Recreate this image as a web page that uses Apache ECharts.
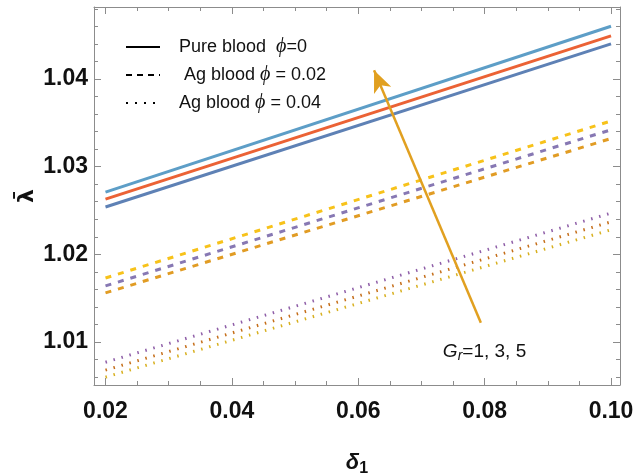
<!DOCTYPE html>
<html>
<head>
<meta charset="utf-8">
<script src="https://cdn.jsdelivr.net/npm/echarts@6/dist/echarts.min.js"></script>
<style>
  html, body { margin: 0; padding: 0; background: #fff; }
  #chart { width: 633px; height: 474px; }
</style>
</head>
<body>
<div id="chart"></div>
<script>
// values
var delta1 = [0.02, 0.10];
var pureGr1 = [1.0254, 1.0440];
var pureGr3 = [1.0263, 1.0449];
var pureGr5 = [1.0271, 1.0460];
var ag02Gr1 = [1.0156, 1.0332];
var ag02Gr3 = [1.0164, 1.0342];
var ag02Gr5 = [1.0173, 1.0352];
var ag04Gr1 = [1.0060, 1.0228];
var ag04Gr3 = [1.0068, 1.0237];
var ag04Gr5 = [1.0077, 1.0247];

var xTicks = [0.02, 0.04, 0.06, 0.08, 0.10];
var yTicks = [1.01, 1.02, 1.03, 1.04];
var xMinor = [0.025, 0.03, 0.035, 0.045, 0.05, 0.055, 0.065, 0.07, 0.075, 0.085, 0.09, 0.095];
var yMinor = [1.006, 1.008, 1.012, 1.014, 1.016, 1.018, 1.022, 1.024, 1.026, 1.028,
              1.032, 1.034, 1.036, 1.038, 1.042, 1.044, 1.046, 1.048];

var legendNames = ['Pure blood  \u03d5=0', ' Ag blood \u03d5 = 0.02', 'Ag blood \u03d5 = 0.04'];
var arrowTail = [0.0794, 1.0122];
var arrowHead = [0.0625, 1.0410];

var xMin = 0.01818, xMax = 0.10142, yMin = 1.0051, yMax = 1.0482;
var font = 'Liberation Sans Narrow, Liberation Sans, Arial, sans-serif';
var frame = '#8c8c8c';

function pairs(ys) {
  return delta1.map(function (x, i) { return [x, ys[i]]; });
}

function makeX(pos, vals, len, showLabel, showLine) {
  return {
    type: 'value', position: pos, min: xMin, max: xMax,
    axisLine: { show: showLine, onZero: false, lineStyle: { color: frame, width: 1 } },
    axisTick: { show: true, inside: true, length: len, customValues: vals, lineStyle: { color: frame } },
    axisLabel: showLabel ? {
      show: true, customValues: vals, margin: 15,
      fontFamily: font, fontSize: 23, fontWeight: 'bold', color: '#111',
      formatter: function (v) { return v.toFixed(2); }
    } : { show: false },
    splitLine: { show: false }
  };
}
function makeY(pos, vals, len, showLabel, showLine) {
  return {
    type: 'value', position: pos, min: yMin, max: yMax,
    axisLine: { show: showLine, onZero: false, lineStyle: { color: frame, width: 1 } },
    axisTick: { show: true, inside: true, length: len, customValues: vals, lineStyle: { color: frame } },
    axisLabel: showLabel ? {
      show: true, customValues: vals, margin: 6,
      fontFamily: font, fontSize: 23, fontWeight: 'bold', color: '#111',
      formatter: function (v) { return v.toFixed(2); }
    } : { show: false },
    splitLine: { show: false }
  };
}

var xMain = makeX('bottom', xTicks, 7, true, true);
xMain.name = '{d|\u03b4}{s|1}';
xMain.nameLocation = 'middle';
xMain.nameGap = 64;
xMain.nameTextStyle = {
  rich: {
    d: { fontFamily: font, fontSize: 22, fontStyle: 'italic', fontWeight: 'bold', color: '#111' },
    s: { fontFamily: font, fontSize: 16, fontWeight: 'bold', color: '#111', verticalAlign: 'bottom', padding: [12, 0, 0, 0] }
  }
};
var yMain = makeY('left', yTicks, 7, true, true);

function line(name, ys, color, type, width) {
  return {
    name: name, type: 'line', data: pairs(ys), symbol: 'none', showSymbol: false, silent: true,
    lineStyle: { color: color, width: width, type: type }, itemStyle: { color: color }, z: 3
  };
}

var dotted = [1.5, 6.8];
var dashed = [6, 7];

var series = [
  line('s1', pureGr1, '#5E81B5', 'solid', 3),
  line('s2', pureGr3, '#EB6235', 'solid', 3),
  line('s3', pureGr5, '#5D9EC7', 'solid', 3),
  line('s4', ag02Gr1, '#E19C24', dashed, 3),
  line('s5', ag02Gr3, '#8778B3', dashed, 3),
  line('s6', ag02Gr5, '#F7C21A', dashed, 3),
  line('s7', ag04Gr1, '#D8B020', dotted, 3),
  line('s8', ag04Gr3, '#C56E1A', dotted, 3),
  line('s9', ag04Gr5, '#8F5FA8', dotted, 3),
  // legend-only entries, black samples
  line(legendNames[0], [null, null], '#000', 'solid', 3),
  line(legendNames[1], [null, null], '#000', [6, 5], 3),
  line(legendNames[2], [null, null], '#000', [2, 7], 2.5)
];
series[0].markLine = {
  silent: true, symbol: ['none', 'arrow'], symbolSize: [14, 22],
  lineStyle: { color: '#E1A020', width: 2.5, type: 'solid' },
  label: { show: false },
  data: [[{ coord: arrowTail }, { coord: arrowHead }]]
};

var richLegend = {
  a: { fontFamily: font, fontSize: 18, color: '#111' },
  i: { fontFamily: 'Liberation Serif, serif', fontSize: 20, fontStyle: 'italic', color: '#111' },
  p: { width: 14 }
};

var chart = echarts.init(document.getElementById('chart'), null, { renderer: 'canvas' });
chart.setOption({
  animation: false,
  backgroundColor: '#fff',
  grid: { left: 94, top: 7, right: 13, bottom: 89, containLabel: false, outerBoundsMode: 'none' },
  legend: {
    data: legendNames, left: 120, top: 32, orient: 'vertical',
    itemWidth: 34, itemHeight: 14, itemGap: 8, selectedMode: false,
    itemStyle: { opacity: 0 },
    formatter: function (n) {
      var k = n.indexOf('\u03d5');
      return '{p|}{a|' + n.slice(0, k) + '}{i|\u03d5}{a|' + n.slice(k + 1) + '}';
    },
    textStyle: { rich: richLegend }
  },
  xAxis: [
    xMain,
    makeX('top', xTicks, 7, false, true),
    makeX('bottom', xMinor, 4, false, false),
    makeX('top', xMinor, 4, false, false)
  ],
  yAxis: [
    yMain,
    makeY('right', yTicks, 7, false, true),
    makeY('left', yMinor, 4, false, false),
    makeY('right', yMinor, 4, false, false)
  ],
  series: series
});

var p = chart.convertToPixel({ xAxisIndex: 0, yAxisIndex: 0 }, [0.0794, 1.0088]);
chart.setOption({
  graphic: [{
    type: 'text', left: p[0] - 38, top: p[1] - 10,
    style: {
      text: '{g|G}{r|r}{a|=1, 3, 5}',
      rich: {
        g: { fontFamily: font, fontSize: 19, fontStyle: 'italic', fill: '#111' },
        r: { fontFamily: font, fontSize: 14, fontStyle: 'italic', fill: '#111', padding: [8, 0, 0, 0] },
        a: { fontFamily: font, fontSize: 19, fill: '#111' }
      }
    }
  }, {
    // y axis title, rotated like the reference
    type: 'text', x: 27, y: 196, rotation: Math.PI / 2,
    style: {
      text: '\u03bb\u0304', fontFamily: 'DejaVu Sans, sans-serif', fontSize: 22, fontWeight: 'bold',
      fill: '#111', align: 'center', verticalAlign: 'middle'
    }
  }]
});
</script>
</body>
</html>
